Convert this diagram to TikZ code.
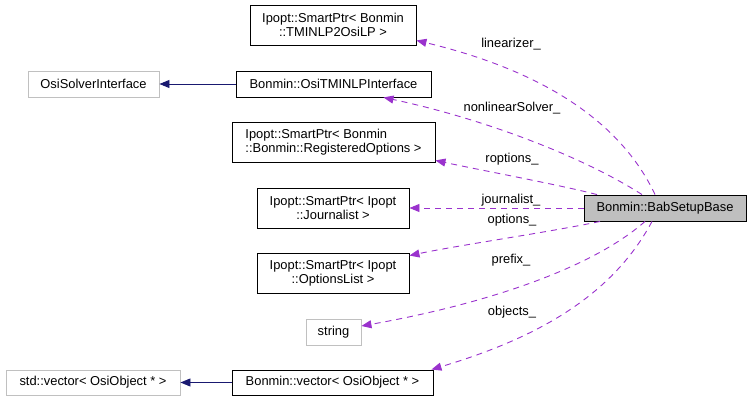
\documentclass[tikz,border=0pt]{standalone}
\usepackage{fontspec}
\setmainfont{Liberation Sans}
\usetikzlibrary{arrows.meta}
\definecolor{edgepurple}{HTML}{9A32CD}
\definecolor{navyblue}{HTML}{191970}
\definecolor{boxgray}{HTML}{BFBFBF}
\definecolor{lightborder}{HTML}{C0C0C0}
\begin{document}
\begin{tikzpicture}[x=1pt,y=-1pt,
  font=\fontsize{12.9}{14}\selectfont,
  cls/.style={draw=black, line width=0.9pt, inner sep=0pt, align=center},
  ext/.style={draw=lightborder, line width=0.9pt, inner sep=0pt, align=center},
  usage/.style={draw=edgepurple, line width=0.9pt, dash pattern=on 6pt off 5pt,
    -{Triangle[length=10pt,width=8pt,fill=edgepurple]}},
  inherit/.style={draw=navyblue, line width=0.9pt,
    -{Triangle[length=10pt,width=8pt,fill=navyblue]}},
  lbl/.style={inner sep=0pt}]
\useasboundingbox (0,0) rectangle (752,401);

\node[cls, minimum width=166pt, minimum height=40pt] (lin) at (333,25) {Ipopt::SmartPtr< Bonmin\\::TMINLP2OsiLP >};
\node[ext, minimum width=131pt, minimum height=26pt] (osi) at (93.5,84) {OsiSolverInterface};
\node[cls, minimum width=195pt, minimum height=26pt] (otm) at (333.5,84) {Bonmin::OsiTMINLPInterface};
\node[cls, minimum width=203pt, minimum height=40pt, align=left] (reg) at (333.5,142) {Ipopt::SmartPtr< Bonmin\\::Bonmin::RegisteredOptions >};
\node[cls, minimum width=152pt, minimum height=40pt] (jou) at (333,208) {Ipopt::SmartPtr< Ipopt\\::Journalist >};
\node[cls, minimum width=152pt, minimum height=40pt] (opt) at (333,273) {Ipopt::SmartPtr< Ipopt\\::OptionsList >};
\node[ext, minimum width=55pt, minimum height=26pt] (str) at (333.5,332) {string};
\node[ext, minimum width=174pt, minimum height=25pt] (stdv) at (93,382.5) {std::vector< OsiObject * >};
\node[cls, minimum width=201pt, minimum height=25pt] (bv) at (332.5,382.5) {Bonmin::vector< OsiObject * >};
\node[cls, fill=boxgray, minimum width=162pt, minimum height=26pt] (bab) at (665,208) {Bonmin::BabSetupBase};

\draw[inherit] (otm.west) -- (osi.east);
\draw[inherit] (bv.west) -- (stdv.east);

\draw[usage] ([xshift=-10pt]bab.north) .. controls (620,120) and (540,70) .. ([yshift=5pt]lin.south east);
\draw[usage] ([xshift=-23pt]bab.north) .. controls (580,155) and (480,118) .. ([xshift=50pt]otm.south);
\draw[usage] ([xshift=-68pt]bab.north) .. controls (560,185) and (480,170) .. ([yshift=2pt]reg.south east);
\draw[usage] (bab.west) -- (jou.east);
\draw[usage] ([xshift=-65pt]bab.south) .. controls (550,232) and (460,245) .. ([yshift=-3pt]opt.north east);
\draw[usage] ([xshift=-20pt]bab.south) .. controls (590,270) and (480,305) .. ([yshift=6pt]str.east);
\draw[usage] ([xshift=-13pt]bab.south) .. controls (610,300) and (530,340) .. ([xshift=-2pt]bv.north east);

\node[lbl] (l1) at (511,44) {linearizer\_};
\node[lbl] (l2) at (512,108) {nonlinearSolver\_};
\node[lbl] (l3) at (512,159) {roptions\_};
\node[lbl] (l4) at (511,200) {journalist\_};
\node[lbl] (l5) at (512,220) {options\_};
\node[lbl] (l6) at (511,260) {prefix\_};
\node[lbl] (l7) at (512,312) {objects\_};
\end{tikzpicture}
\end{document}
